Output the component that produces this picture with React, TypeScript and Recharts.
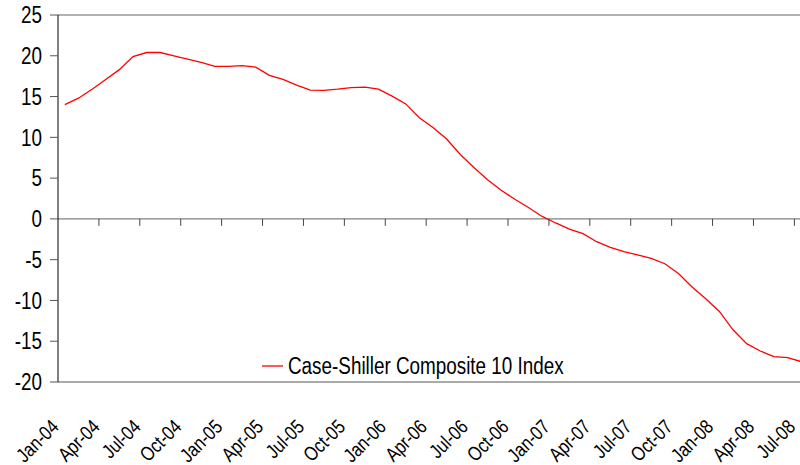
import { LineChart, Line, XAxis, YAxis, ReferenceLine, Legend } from "recharts";

const months = [
  "Jan-04", "Feb-04", "Mar-04", "Apr-04", "May-04", "Jun-04", "Jul-04", "Aug-04", "Sep-04", "Oct-04", "Nov-04", "Dec-04",
  "Jan-05", "Feb-05", "Mar-05", "Apr-05", "May-05", "Jun-05", "Jul-05", "Aug-05", "Sep-05", "Oct-05", "Nov-05", "Dec-05",
  "Jan-06", "Feb-06", "Mar-06", "Apr-06", "May-06", "Jun-06", "Jul-06", "Aug-06", "Sep-06", "Oct-06", "Nov-06", "Dec-06",
  "Jan-07", "Feb-07", "Mar-07", "Apr-07", "May-07", "Jun-07", "Jul-07", "Aug-07", "Sep-07", "Oct-07", "Nov-07", "Dec-07",
  "Jan-08", "Feb-08", "Mar-08", "Apr-08", "May-08", "Jun-08", "Jul-08",
];

const composite10 = [
  14.0, 14.8, 15.9, 17.1, 18.3, 19.9, 20.4, 20.4, 20.0, 19.6, 19.2, 18.7,
  18.7, 18.8, 18.6, 17.6, 17.1, 16.4, 15.8, 15.75, 15.9, 16.1, 16.15, 15.9,
  15.05, 14.1, 12.4, 11.2, 9.8, 7.9, 6.3, 4.8, 3.5, 2.4, 1.4, 0.3,
  -0.5, -1.25, -1.8, -2.8, -3.5, -4.0, -4.4, -4.85, -5.5, -6.7, -8.35, -9.8,
  -11.35, -13.6, -15.3, -16.2, -16.9, -17.0, -17.5,
];

const yTicks = [-20, -15, -10, -5, 0, 5, 10, 15, 20, 25];

const seriesName = "Case-Shiller Composite 10 Index";

// categories sit between tick marks, so each point is at the middle of its slot
const data = months.map((m, i) => ({ pos: i + 0.5, month: m, value: composite10[i] }));
const xTicks = months.map((_, i) => i).filter((i) => i % 3 === 0);
const tickMarks = [...xTicks.slice(1), months.length];

// no narrow font installed, so squeeze Liberation Sans sideways
const font = "'Liberation Sans', Arial, sans-serif";
const squeeze = 0.82;

function XTick({ x, y, payload }: any) {
  const tx = x + 2;
  const ty = y + 46;
  return (
    <text
      transform={`translate(${tx} ${ty}) rotate(-45) scale(${squeeze} 1)`}
      textAnchor="end"
      fontFamily={font}
      fontSize={20}
      fill="#000"
    >
      {months[payload.value]}
    </text>
  );
}

function YTick({ x, y, payload }: any) {
  return (
    <text
      transform={`translate(${x} ${y}) scale(${squeeze} 1)`}
      textAnchor="end"
      dy="0.355em"
      fontFamily={font}
      fontSize={23}
      fill="#000"
    >
      {payload.value}
    </text>
  );
}

function LegendBox() {
  return (
    <div style={{ display: "flex", alignItems: "center", fontFamily: font, fontSize: 23, color: "#000", lineHeight: "26px", whiteSpace: "nowrap" }}>
      <svg width={26} height={10} style={{ flexShrink: 0 }}>
        <line x1={0} x2={21} y1={5} y2={5} stroke="#ff0000" strokeWidth={1.3} />
      </svg>
      <span style={{ display: "inline-block", transform: `scaleX(${squeeze})`, transformOrigin: "left center" }}>{seriesName}</span>
    </div>
  );
}

export default function App() {
  return (
    <div style={{ position: "fixed", left: 0, top: 0, width: 800, height: 465, overflow: "hidden", background: "#fff" }}>
      <LineChart width={808} height={465} data={data} margin={{ top: 15, right: 0, bottom: 0, left: 0 }}>
        <XAxis
          dataKey="pos"
          type="number"
          domain={[0, months.length]}
          ticks={xTicks}
          interval={0}
          height={83}
          axisLine={false}
          tickLine={false}
          tickSize={0}
          tickMargin={0}
          tick={<XTick />}
        />
        <YAxis
          domain={[-20, 25]}
          ticks={yTicks}
          interval={0}
          width={58}
          tickSize={8}
          tickMargin={8}
          axisLine={{ stroke: "#000", strokeWidth: 1 }}
          tickLine={{ stroke: "#555" }}
          tick={<YTick />}
        />
        <ReferenceLine y={25} stroke="#999" strokeWidth={1.3} />
        <ReferenceLine y={-20} stroke="#aaa" strokeWidth={2} />
        <ReferenceLine y={0} stroke="#808080" strokeWidth={1.3} />
        {tickMarks.map((t) => (
          <ReferenceLine
            key={t}
            segment={[
              { x: t, y: 0 },
              { x: t, y: -0.85 },
            ]}
            stroke="#444"
            strokeWidth={1}
          />
        ))}
        <Legend
          layout="horizontal"
          verticalAlign="middle"
          align="center"
          wrapperStyle={{ left: 262, top: 353, width: 420 }}
          content={() => <LegendBox />}
        />
        <Line
          type="linear"
          dataKey="value"
          name={seriesName}
          stroke="#ff0000"
          strokeWidth={1.3}
          dot={false}
          isAnimationActive={false}
        />
      </LineChart>
    </div>
  );
}
